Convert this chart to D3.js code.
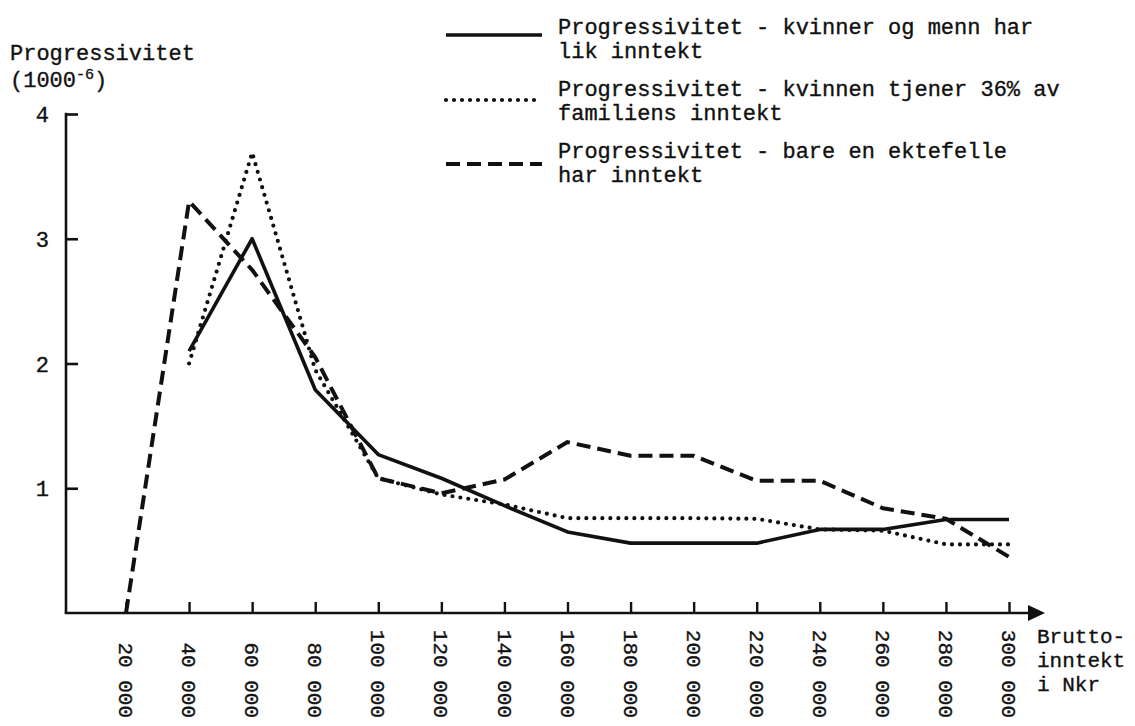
<!DOCTYPE html>
<html>
<head>
<meta charset="utf-8">
<script src="https://cdn.jsdelivr.net/npm/d3@7"></script>
<style>
  body { margin: 0; background: #fff; }
  text { font-family: "Liberation Mono", "DejaVu Sans Mono", monospace; fill: #111; stroke: #111; stroke-width: 0.35px; }
</style>
</head>
<body>
<script>
// incomes (Nkr) and progressivity values
const incomes = [20000, 40000, 60000, 80000, 100000, 120000, 140000, 160000,
  180000, 200000, 220000, 240000, 260000, 280000, 300000];
const tickLabels = ['20 000', '40 000', '60 000', '80 000', '100 000', '120 000', '140 000',
  '160 000', '180 000', '200 000', '220 000', '240 000', '260 000', '280 000', '300 000'];

const likInntekt = [null, 2.1, 3.0, 1.79, 1.27, 1.08, 0.86, 0.65, 0.56, 0.56, 0.56, 0.67, 0.67, 0.75, 0.75];
const kvinne36 = [null, 2.0, 3.69, 1.95, 1.08, 0.95, 0.87, 0.76, 0.76, 0.76, 0.755, 0.67, 0.66, 0.55, 0.55];
const enEktefelle = [0, 3.3, 2.75, 2.05, 1.08, 0.96, 1.07, 1.37, 1.26, 1.26, 1.06, 1.06, 0.84, 0.755, 0.45];

const yTicks = [1, 2, 3, 4];

const legendLabels = [
  ['Progressivitet - kvinner og menn har', 'lik inntekt'],
  ['Progressivitet - kvinnen tjener 36% av', 'familiens inntekt'],
  ['Progressivitet - bare en ektefelle', 'har inntekt']
];

const width = 1135;
const height = 726;

const svg = d3.select('body')
  .append('svg')
  .attr('width', width)
  .attr('height', height);

const x = d3.scaleLinear().domain([20000, 300000]).range([126, 1009]);
const y = d3.scaleLinear().domain([0, 4]).range([613, 114]);
const axisX = 66;

const styles = [
  { data: likInntekt, dash: null, cap: 'butt', w: 3.6 },
  { data: kvinne36, dash: '0 8', cap: 'round', w: 4.2 },
  { data: enEktefelle, dash: '14 7', cap: 'butt', w: 4 }
];

// y axis, ticks point inwards
const yAxis = svg.append('g')
  .attr('transform', `translate(${axisX},0)`)
  .call(d3.axisLeft(y).tickValues(yTicks).tickSize(-12).tickPadding(17).tickFormat(d3.format('d')));
yAxis.select('.domain').remove();
yAxis.selectAll('line').attr('stroke', '#111').attr('stroke-width', 2.6);
yAxis.selectAll('text').style('font-size', '22px').attr('dy', '0.35em');

svg.append('line')
  .attr('x1', axisX).attr('x2', axisX)
  .attr('y1', y(4) - 1.3).attr('y2', y(0))
  .attr('stroke', '#111').attr('stroke-width', 2.6);

// x axis
const xAxis = svg.append('g')
  .attr('transform', `translate(0,${y(0)})`)
  .call(d3.axisBottom(x).tickValues(incomes).tickSize(-11)
    .tickFormat((d, i) => tickLabels[i]));
xAxis.select('.domain').remove();
xAxis.selectAll('line').attr('stroke', '#111').attr('stroke-width', 2.4);
xAxis.selectAll('text')
  .style('font-size', '21px')
  .attr('text-anchor', 'end')
  .attr('transform', 'rotate(90)')
  .attr('x', 105)
  .attr('y', 0)
  .attr('dy', '0.35em');

svg.append('line')
  .attr('x1', axisX - 1.3).attr('x2', 1030)
  .attr('y1', y(0)).attr('y2', y(0))
  .attr('stroke', '#111').attr('stroke-width', 2.6);
svg.append('path')
  .attr('d', `M1028,${y(0) - 8}L1045,${y(0)}L1028,${y(0) + 8}Z`)
  .attr('fill', '#111');

// axis titles
const yTitle = svg.append('text').attr('x', 10).attr('y', 60).style('font-size', '22px');
yTitle.text('Progressivitet');
const yUnit = svg.append('text').attr('x', 10).attr('y', 87).style('font-size', '22px');
yUnit.append('tspan').text('(1000');
yUnit.append('tspan').attr('dy', -8).style('font-size', '15px').text('-6');
yUnit.append('tspan').attr('dy', 8).text(')');

['Brutto-', 'inntekt', 'i Nkr'].forEach((t, i) => {
  svg.append('text')
    .attr('x', 1037)
    .attr('y', 643 + i * 24)
    .style('font-size', '21px')
    .text(t);
});

// series
const line = d3.line()
  .defined((d) => d != null)
  .x((d, i) => x(incomes[i]))
  .y((d) => y(d));

styles.forEach((s) => {
  svg.append('path')
    .datum(s.data)
    .attr('d', line)
    .attr('fill', 'none')
    .attr('stroke', '#111')
    .attr('stroke-width', s.w)
    .attr('stroke-linecap', s.cap)
    .attr('stroke-linejoin', 'round')
    .attr('stroke-dasharray', s.dash);
});

// legend
const legendSampleY = [35, 100, 164];
const legendTextY = [34, 96, 158];

styles.forEach((s, i) => {
  svg.append('line')
    .attr('x1', 446).attr('x2', 542)
    .attr('y1', legendSampleY[i]).attr('y2', legendSampleY[i])
    .attr('stroke', '#111')
    .attr('stroke-width', s.w)
    .attr('stroke-linecap', s.cap)
    .attr('stroke-dasharray', s.dash);

  legendLabels[i].forEach((t, j) => {
    svg.append('text')
      .attr('x', 558)
      .attr('y', legendTextY[i] + j * 24)
      .style('font-size', '22px')
      .text(t);
  });
});
</script>
</body>
</html>
